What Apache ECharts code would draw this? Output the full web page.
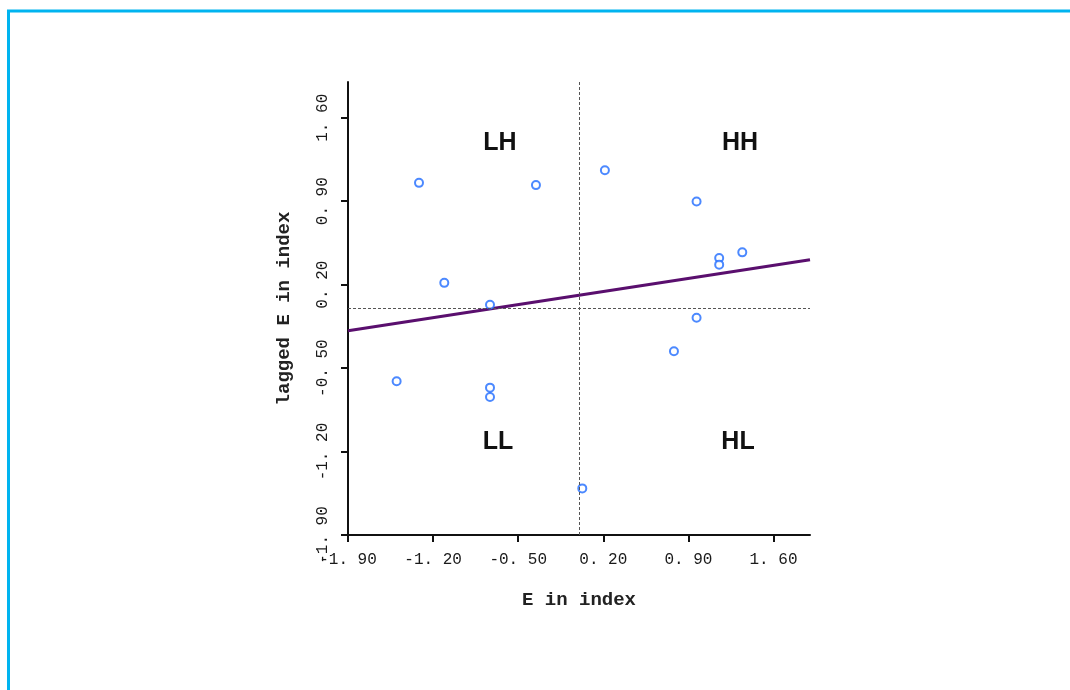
<!DOCTYPE html>
<html>
<head>
<meta charset="utf-8">
<script src="https://cdn.jsdelivr.net/npm/echarts@6/dist/echarts.min.js"></script>
<style>
  html, body { margin: 0; padding: 0; background: #ffffff; }
  #chart { width: 1070px; height: 690px; }
</style>
</head>
<body>
<div id="chart"></div>
<script>
// Standardized E index values and their spatial lags
const eIndex = [-1.316, -0.354, -1.108, -0.732, 0.213, 0.967, 1.153, 1.153, 1.343, 0.967, 0.781, 0.027, -1.500, -0.732, -0.732];
const laggedE = [1.054, 1.035, 0.215, 0.031, 1.160, 0.898, 0.424, 0.368, 0.471, -0.078, -0.358, -1.509, -0.611, -0.664, -0.743];

// Axis tick labels
const tickValues = [-1.9, -1.2, -0.5, 0.2, 0.9, 1.6];
const axisMin = -1.9;
const axisMax = 1.9;

// Quadrant names
const quadrants = ['LH', 'HH', 'LL', 'HL'];

const points = eIndex.map((x, i) => [x, laggedE[i]]);

// Least-squares fit of lagged E on E (Moran scatterplot slope)
const n = eIndex.length;
const mx = eIndex.reduce((a, b) => a + b, 0) / n;
const my = laggedE.reduce((a, b) => a + b, 0) / n;
let sxy = 0, sxx = 0;
for (let i = 0; i < n; i++) {
  sxy += (eIndex[i] - mx) * (laggedE[i] - my);
  sxx += (eIndex[i] - mx) * (eIndex[i] - mx);
}
const slope = sxy / sxx;
const intercept = my - slope * mx;
const fitLine = [axisMin, axisMax].map(x => [x, intercept + slope * x]);

const monoFont = '"Liberation Mono", "DejaVu Sans Mono", monospace';
const fmt = v => v.toFixed(2).replace('.', '. ');

const axisCommon = {
  type: 'value',
  min: axisMin,
  max: axisMax,
  splitLine: { show: false },
  axisLine: { onZero: false, lineStyle: { color: '#111', width: 2 } },
  axisTick: { show: true, length: 7, lineStyle: { color: '#111', width: 2 }, customValues: tickValues },
  nameLocation: 'middle',
  nameTextStyle: { fontFamily: monoFont, fontSize: 19, fontWeight: 'bold', color: '#222' }
};

const chart = echarts.init(document.getElementById('chart'), null, { renderer: 'canvas' });

const quadPos = [[500, 143], [740, 143], [498, 442], [738, 442]];

chart.setOption({
  animation: false,
  backgroundColor: '#ffffff',
  grid: { left: 348, right: 260, top: 82, bottom: 155 },
  xAxis: Object.assign({}, axisCommon, {
    name: 'E in index',
    nameGap: 56,
    axisLabel: {
      customValues: tickValues,
      formatter: fmt,
      margin: 17,
      fontFamily: monoFont, fontSize: 16, color: '#1a1a1a'
    }
  }),
  yAxis: Object.assign({}, axisCommon, {
    name: 'lagged E in index',
    nameGap: 54,
    axisLabel: {
      customValues: tickValues,
      formatter: fmt,
      rotate: 90,
      margin: 17,
      fontFamily: monoFont, fontSize: 16, color: '#1a1a1a'
    }
  }),
  graphic: [
    {
      type: 'polyline',
      shape: { points: [[8.5, 690], [8.5, 11], [1070, 11]] },
      style: { stroke: '#00b4f0', lineWidth: 3, fill: null },
      silent: true
    }
  ].concat(quadrants.map((q, i) => ({
    type: 'text',
    x: quadPos[i][0],
    y: quadPos[i][1],
    style: {
      text: q,
      font: 'bold 25px "Liberation Sans", Arial, sans-serif',
      fill: '#111',
      align: 'center',
      verticalAlign: 'middle'
    },
    silent: true
  }))),
  series: [
    {
      type: 'line',
      data: fitLine,
      symbol: 'none',
      lineStyle: { color: '#5a0f6e', width: 3 },
      z: 3,
      silent: true
    },
    {
      type: 'scatter',
      data: points,
      symbol: 'emptyCircle',
      symbolSize: 8,
      itemStyle: { color: '#1f6cff', borderColor: '#1f6cff', borderWidth: 2 },
      z: 4,
      markLine: {
        silent: true,
        symbol: 'none',
        label: { show: false },
        lineStyle: { color: '#555', width: 1, type: [3, 2] },
        data: [{ xAxis: 0 }, { yAxis: 0 }]
      }
    }
  ]
});
</script>
</body>
</html>
